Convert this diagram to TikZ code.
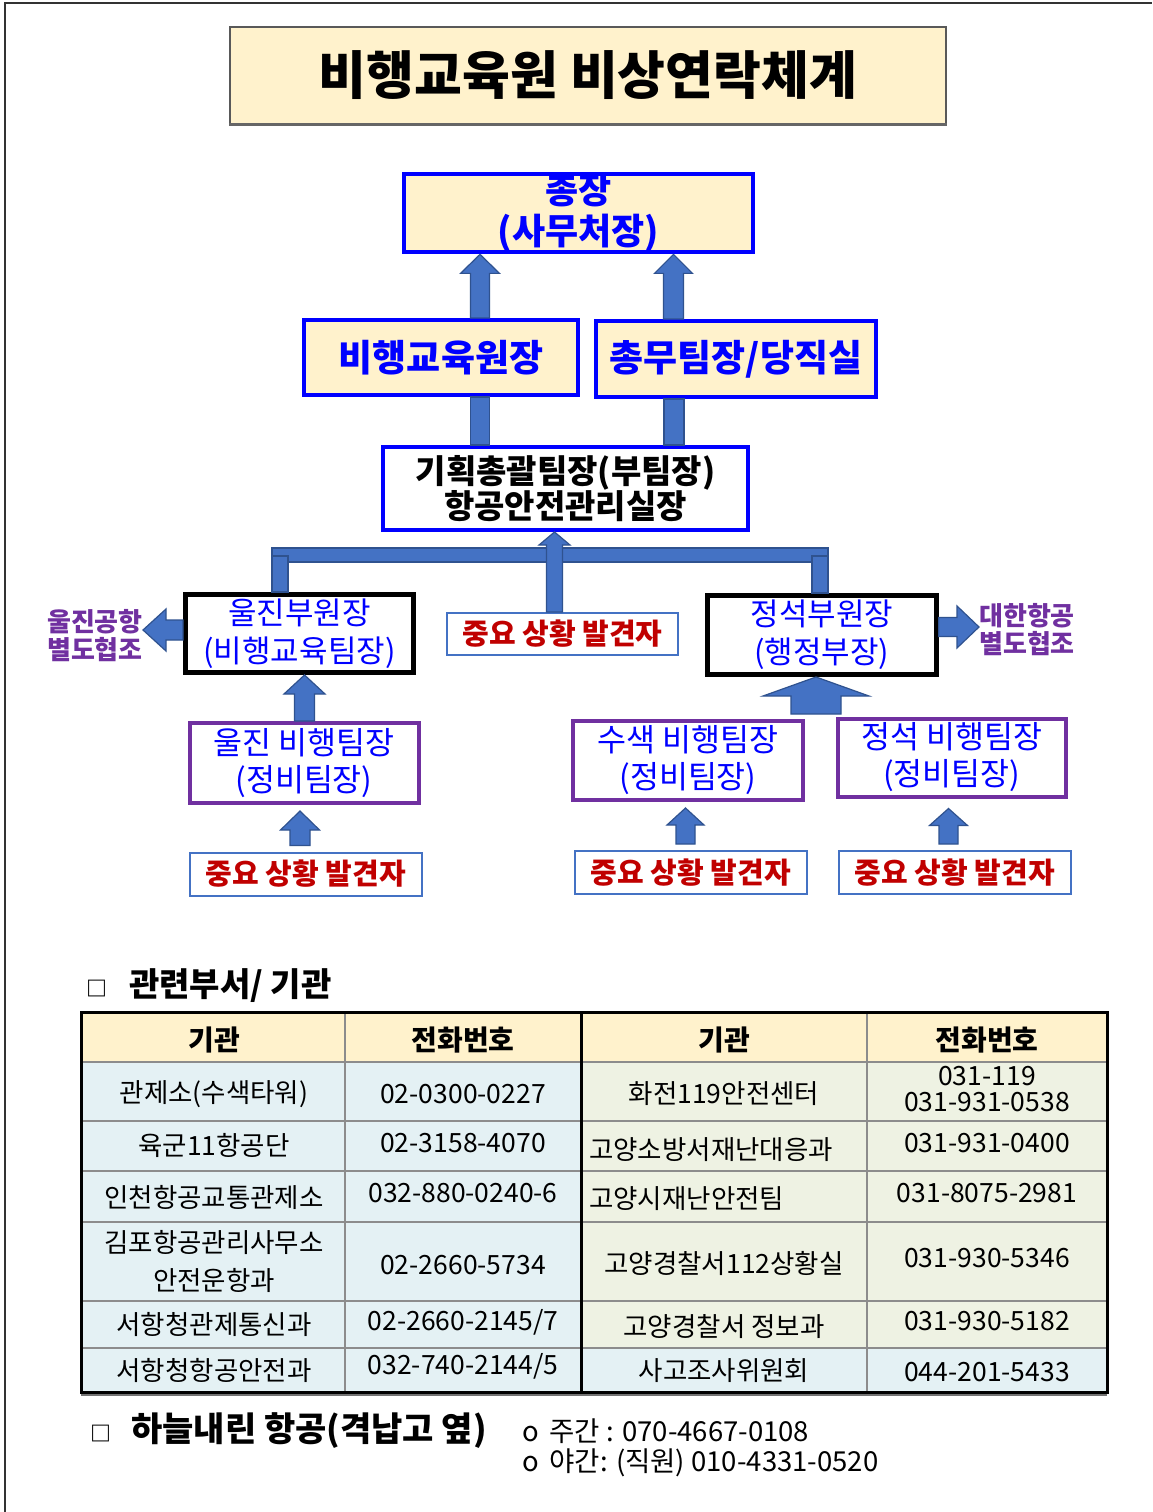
\documentclass[tikz,border=0pt]{standalone}
\usepackage{fontspec}
\setmainfont{Noto Sans CJK KR}
\newfontfamily\tbfont{Noto Sans CJK KR}
\usetikzlibrary{calc}
\definecolor{cream}{HTML}{FFF2CC}
\definecolor{pblue}{HTML}{0000FF}
\definecolor{ablue}{HTML}{4472C4}
\definecolor{adark}{HTML}{2F528F}
\definecolor{purp}{HTML}{7030A0}
\definecolor{dred}{HTML}{C00000}
\definecolor{cellb}{HTML}{E4F1F4}
\definecolor{cellg}{HTML}{EEF2E3}
\definecolor{gridg}{HTML}{8C8C8C}
\newcommand\fs[2]{\fontsize{#1}{#2}\selectfont}
\tikzset{
 blockarrow/.style={fill=ablue, draw=adark, line width=1.2pt, line join=miter},
 titlebox/.style={draw=black!65, line width=1.5pt, fill=cream, font=\bfseries\fs{52}{58}, inner sep=0pt},
 topbox/.style={draw=pblue, line width=4pt, fill=cream, text=pblue, font=\bfseries\fs{37}{41}, align=center, inner sep=0pt},
 gbox/.style={draw=pblue, line width=4pt, fill=white, text=black, font=\bfseries\fs{33}{35}, align=center, inner sep=0pt},
 vbox/.style={draw=black, line width=5pt, fill=white, text=pblue, font=\fs{31}{38}, align=center, inner sep=0pt},
 tbox/.style={draw=purp, line width=4pt, fill=white, text=pblue, font=\fs{31.5}{37}, align=center, inner sep=0pt},
 findbox/.style={draw=ablue, line width=2pt, fill=white, text=dred, font=\bfseries\fs{29}{30}, inner sep=0pt, minimum width=232pt, minimum height=43pt},
 side/.style={text=purp, font=\bfseries\fs{26}{28}, align=center, inner sep=0pt},
 cell/.style={font=\tbfont\fs{26.5}{26}, inner sep=0pt, align=center},
 hcell/.style={font=\bfseries\fs{28}{28}, inner sep=0pt},
 gridline/.style={draw=gridg, line width=1.5pt},
 heavy/.style={draw=black, line width=3pt}
}
% vertical block arrow: x, tail, tip, shaft half, head half, head length
\newcommand\vblock[6]{%
 \filldraw[blockarrow] let \p1=(#2), \p2=(#3) in
  (#1pt-#4pt,\y1) -- (#1pt-#4pt,\y2-#6pt) -- (#1pt-#5pt,\y2-#6pt) -- (#1pt,\y2)
  -- (#1pt+#5pt,\y2-#6pt) -- (#1pt+#4pt,\y2-#6pt) -- (#1pt+#4pt,\y1) -- cycle;}
\newcommand\vshaft[4]{%
 \filldraw[blockarrow] let \p1=(#2), \p2=(#3) in (#1pt-#4pt,\y1) rectangle (#1pt+#4pt,\y2);}
% horizontal block arrows: y(px, downward), tail, tip, shaft half, head half, head length
\newcommand\lblock[6]{%
 \filldraw[blockarrow] let \p1=(#2), \p2=(#3) in
  (\x1,-#1pt+#4pt) -- (\x2+#6pt,-#1pt+#4pt) -- (\x2+#6pt,-#1pt+#5pt) -- (\x2,-#1pt)
  -- (\x2+#6pt,-#1pt-#5pt) -- (\x2+#6pt,-#1pt-#4pt) -- (\x1,-#1pt-#4pt) -- cycle;}
\newcommand\rblock[6]{%
 \filldraw[blockarrow] let \p1=(#2), \p2=(#3) in
  (\x1,-#1pt+#4pt) -- (\x2-#6pt,-#1pt+#4pt) -- (\x2-#6pt,-#1pt+#5pt) -- (\x2,-#1pt)
  -- (\x2-#6pt,-#1pt-#5pt) -- (\x2-#6pt,-#1pt-#4pt) -- (\x1,-#1pt-#4pt) -- cycle;}
\begin{document}
\begin{tikzpicture}[x=1pt,y=-1pt]
\useasboundingbox (0,0) rectangle (1152,1512);
\fill[white] (0,0) rectangle (1152,1512);
\draw[line width=1.5pt, black!80] (5,1512) -- (5,3) -- (1152,3);

% title
\node[titlebox, minimum width=716pt, minimum height=97pt] (title) at (588,75.5) {비행교육원 비상연락체계};
\draw[black!60, line width=3pt] (title.south west) -- (title.south east);

% org chart
\node[topbox, font=\bfseries\fs{36}{41}, minimum width=349pt, minimum height=76pt] (zong) at (578.5,213) {총장\\(사무처장)};
\node[topbox, minimum width=274pt, minimum height=75pt] (bh) at (441,357.5) {비행교육원장};
\node[topbox, minimum width=280pt, minimum height=76pt] (cm) at (736,359) {총무팀장/당직실};
\node[gbox, minimum width=365pt, minimum height=83pt] (gh) at (565.5,488.5) {기획총괄팀장(부팀장)\\항공안전관리실장};
\node[vbox, minimum width=228pt, minimum height=78pt] (uj) at (299.5,633.5) {울진부원장\\(비행교육팀장)};
\node[vbox, minimum width=229pt, minimum height=79pt] (js) at (821.8,635) {정석부원장\\(행정부장)};
\node[findbox, minimum width=231pt, minimum height=42pt] (f0) at (562.5,634) {중요 상황 발견자};
\node[tbox, minimum width=229pt, minimum height=80pt] (ujt) at (304,763) {울진 비행팀장\\(정비팀장)};
\node[tbox, minimum width=230pt, minimum height=79pt] (sst) at (688,760.5) {수색 비행팀장\\(정비팀장)};
\node[tbox, minimum width=228pt, minimum height=78pt] (jst) at (951.8,757.5) {정석 비행팀장\\(정비팀장)};
\node[findbox] (f1) at (306,874) {중요 상황 발견자};
\node[findbox] (f2) at (691,872.5) {중요 상황 발견자};
\node[findbox] (f3) at (955,872.5) {중요 상황 발견자};
\node[side, anchor=east] (ujl) at (143,636) {울진공항\\별도협조};
\node[side, anchor=west] (dhl) at (979,630) {대한항공\\별도협조};

% arrows
\vblock{480}{bh.north}{zong.south}{9.5}{19.5}{19}
\vblock{673.5}{cm.north}{zong.south}{10}{19}{19}
\vshaft{480}{gh.north}{bh.south}{9.5}
\vshaft{674}{gh.north}{cm.south}{10}
\filldraw[blockarrow] (272,548) rectangle (828,562);
\filldraw[blockarrow] (272,556) rectangle (288,0 |- uj.north);
\filldraw[blockarrow] (812,556) rectangle (828,0 |- js.north);
\vblock{554.5}{f0.north}{gh.south}{8}{15.5}{13}
\lblock{630}{uj.west}{ujl.east}{10}{21}{23}
\rblock{627}{js.east}{dhl.west}{9.5}{21}{22}
\vblock{304.5}{ujt.north}{uj.south}{10}{20.5}{19}
\coordinate (wt) at (816,714);
\vblock{816}{wt}{js.south}{25}{53}{19}
\vblock{300}{$(f1.north)+(0,-6)$}{$(ujt.south)+(0,6)$}{10}{19.5}{19}
\vblock{685.5}{$(f2.north)+(0,-6)$}{$(sst.south)+(0,6)$}{9.5}{18.5}{17}
\vblock{948.5}{$(f3.north)+(0,-6)$}{$(jst.south)+(0,10)$}{9.5}{19}{17}

% related departments
\node[font=\bfseries\fs{21}{21}, inner sep=0pt] (sq1) at (97,989) {□};
\node[anchor=west, font=\bfseries\fs{33}{36}, inner sep=0pt] (h1) at (129,986) {관련부서/ 기관};

% table backgrounds
\fill[cream] (81,1012) rectangle (1107,1062);
\fill[cellb] (81,1062) rectangle (581,1392);
\fill[cellg] (581,1062) rectangle (1107,1348);
\fill[cellb] (581,1348) rectangle (1107,1392);
% grid
\foreach \yy in {1062,1121,1171,1222,1301,1348} \draw[gridline] (81,\yy) -- (1107,\yy);
\draw[gridline] (345,1012) -- (345,1392);
\draw[gridline] (867,1012) -- (867,1392);
\draw[heavy] (581,1012) -- (581,1392);
\draw[heavy] (81,1012) rectangle (1107,1392);
\draw[black!55, line width=2pt] (81,1395) -- (1107,1395);

% table text
\node[hcell] (t01) at (214,1040) {기관};
\node[hcell] (t02) at (463,1040) {전화번호};
\node[hcell] (t03) at (724,1040) {기관};
\node[hcell] (t04) at (987,1040) {전화번호};
\node[cell] (t11) at (214,1094) {관제소(수색타워)};
\node[cell] (t12) at (463,1094) {02-0300-0227};
\node[cell] (t13) at (724,1094) {화전119안전센터};
\node[cell] (t14) at (987,1089) {031-119\\031-931-0538};
\node[cell] (t21) at (214,1145) {육군11항공단};
\node[cell] (t22) at (463,1143) {02-3158-4070};
\node[cell, anchor=west] (t23) at (589,1150) {고양소방서재난대응과};
\node[cell] (t24) at (987,1143) {031-931-0400};
\node[cell] (t31) at (214,1197) {인천항공교통관제소};
\node[cell] (t32) at (463,1193) {032-880-0240-6};
\node[cell, anchor=west] (t33) at (589,1199) {고양시재난안전팀};
\node[cell] (t34) at (987,1193) {031-8075-2981};
\node[cell, font=\tbfont\fs{26.5}{38}] (t41) at (214,1261) {김포항공관리사무소\\안전운항과};
\node[cell] (t42) at (463,1265) {02-2660-5734};
\node[cell] (t43) at (724,1263) {고양경찰서112상황실};
\node[cell] (t44) at (987,1258) {031-930-5346};
\node[cell] (t51) at (214,1324) {서항청관제통신과};
\node[cell] (t52) at (463,1322) {02-2660-2145/7};
\node[cell] (t53) at (724,1327) {고양경찰서 정보과};
\node[cell] (t54) at (987,1321) {031-930-5182};
\node[cell] (t61) at (214,1370) {서항청항공안전과};
\node[cell] (t62) at (463,1366) {032-740-2144/5};
\node[cell] (t63) at (724,1371) {사고조사위원회};
\node[cell] (t64) at (987,1372) {044-201-5433};

% bottom info
\node[font=\bfseries\fs{21}{21}, inner sep=0pt] (sq2) at (101,1434) {□};
\node[anchor=west, font=\bfseries\fs{34}{36}, inner sep=0pt] (h2) at (131,1431) {하늘내린 항공(격납고 옆)};
\node[anchor=west, font=\tbfont\fs{27.5}{30}, inner sep=0pt] (d1) at (522,1431) {o\, 주간 : 070-4667-0108};
\node[anchor=west, font=\tbfont\fs{27.5}{30}, inner sep=0pt] (d2) at (522,1463) {o\, 야간: (직원) 010-4331-0520};
\end{tikzpicture}
\end{document}
